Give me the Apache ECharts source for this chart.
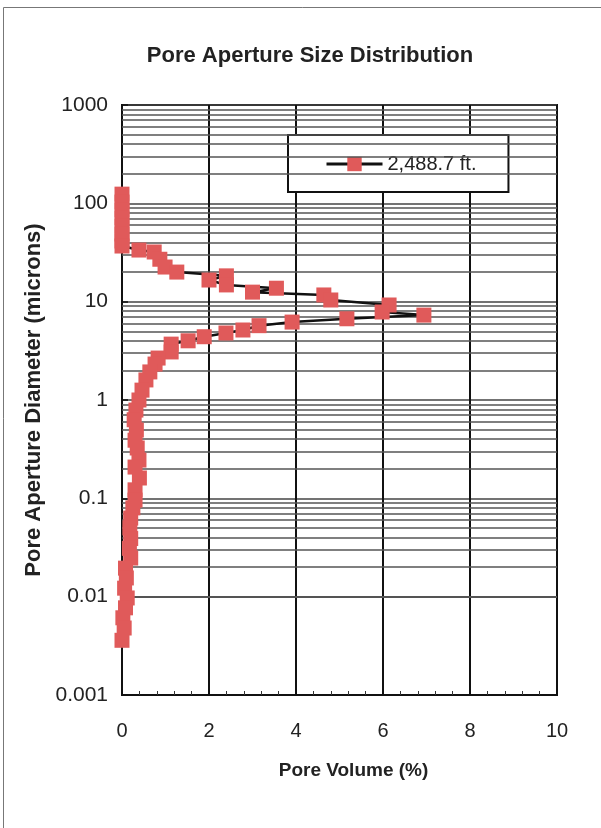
<!DOCTYPE html>
<html>
<head>
<meta charset="utf-8">
<script src="https://cdn.jsdelivr.net/npm/echarts@6/dist/echarts.min.js"></script>
<style>
html,body{margin:0;padding:0;background:#fff;}
#chart{width:601px;height:828px;}
</style>
</head>
<body>
<div id="chart"></div>
<script>
// Pore volume (%) per point, in order of decreasing pore aperture diameter
const poreVolume = [
  0, 0, 0, 0, 0, 0, 0, 0,
  0.39, 0.74, 0.87, 0.99, 1.26, 2.4, 2.0, 2.4, 3.55, 3.0, 4.64, 4.8, 6.14, 5.98, 6.94,
  5.17, 3.91, 3.15, 2.78, 2.39, 1.89, 1.52, 1.13, 1.13, 0.83, 0.76, 0.64, 0.55, 0.46, 0.39, 0.32, 0.28,
  0.33, 0.3, 0.35, 0.39, 0.3, 0.4, 0.3, 0.3, 0.25, 0.2, 0.18, 0.2, 0.17, 0.2, 0.08, 0.1, 0.06, 0.12, 0.08, 0.02, 0.05, 0.0
];
// Pore aperture diameter (microns)
const diameter = [
  124, 103, 85.6, 71, 58.8, 48.8, 41.4, 36.8,
  33.5, 32, 27, 22.5, 20, 18.3, 16.6, 14.8, 13.7, 12.5, 11.7, 10.4, 9.25, 7.85, 7.3,
  6.7, 6.2, 5.7, 5.15, 4.8, 4.4, 4.0, 3.7, 3.08, 2.67, 2.32, 1.93, 1.6, 1.26, 1.0, 0.79, 0.63,
  0.495, 0.39, 0.325, 0.245, 0.208, 0.161, 0.122, 0.096, 0.080, 0.063, 0.050, 0.039, 0.031, 0.0247, 0.0195, 0.0155, 0.0122, 0.0097, 0.0077, 0.0061, 0.0048, 0.0036
];
const seriesName = '2,488.7 ft.';
const xTicks = [0, 2, 4, 6, 8, 10];
const yDecades = [0.001, 0.01, 0.1, 1, 10, 100, 1000];
const minorMultipliers = [2, 3, 4, 5, 6, 7, 8, 9];

const points = poreVolume.map((v, i) => [v, diameter[i]]);
const minorLines = [];
yDecades.slice(0, -1).forEach(d => {
  minorMultipliers.forEach(m => minorLines.push({ yAxis: Number((m * d).toPrecision(3)) }));
});

const chart = echarts.init(document.getElementById('chart'), null, { renderer: 'canvas' });
const font = 'Arial, "Liberation Sans", sans-serif';
chart.setOption({
  animation: false,
  backgroundColor: '#ffffff',
  graphic: [{
    type: 'rect', z: 0, silent: true,
    shape: { x: 3.5, y: 7.5, width: 800, height: 900 },
    style: { fill: 'none', stroke: '#777', lineWidth: 1 }
  }],
  title: {
    text: 'Pore Aperture Size Distribution',
    left: 305, top: 40, textAlign: 'center',
    textStyle: { fontFamily: font, fontWeight: 'bold', fontSize: 22, color: '#222' }
  },
  legend: {
    left: 288, top: 135,
    padding: [19, 32, 18, 37],
    borderColor: '#111', borderWidth: 2, backgroundColor: '#fff',
    itemWidth: 56, itemHeight: 18,
    lineStyle: { width: 3, color: '#111' },
    textStyle: { fontFamily: font, fontSize: 20, color: '#222' },
    data: [seriesName]
  },
  grid: {
    left: 122, right: 44, top: 105, bottom: 133,
    show: true, borderColor: '#111', borderWidth: 2, backgroundColor: '#fff'
  },
  xAxis: {
    type: 'value', min: xTicks[0], max: xTicks[xTicks.length - 1], interval: 2,
    name: 'Pore Volume (%)', nameLocation: 'middle', nameGap: 66,
    nameTextStyle: { fontFamily: font, fontWeight: 'bold', fontSize: 19, color: '#222', padding: [0, 0, 0, 28] },
    axisLine: { show: true, lineStyle: { color: '#111', width: 2 } },
    axisTick: { show: true, inside: true, length: 6, lineStyle: { color: '#111', width: 1.5 } },
    minorTick: { show: true, splitNumber: 5, length: 4, lineStyle: { color: '#333', width: 1 } },
    axisLabel: { fontFamily: font, fontSize: 20, color: '#222', margin: 26 },
    splitLine: { show: true, lineStyle: { color: '#111', width: 2 } }
  },
  yAxis: {
    type: 'log', logBase: 10, min: yDecades[0], max: yDecades[yDecades.length - 1], interval: 1,
    name: 'Pore Aperture Diameter (microns)', nameLocation: 'middle', nameGap: 76,
    nameTextStyle: { fontFamily: font, fontWeight: 'bold', fontSize: 22, color: '#222' },
    axisLine: { show: true, lineStyle: { color: '#111', width: 2 } },
    axisTick: { show: true, inside: true, length: 6, lineStyle: { color: '#111', width: 1.5 } },
    axisLabel: {
      fontFamily: font, fontSize: 21, color: '#222', margin: 14,
      formatter: v => String(Number(v.toPrecision(3)))
    },
    splitLine: { show: true, lineStyle: { color: '#444', width: 1.5 } }
  },
  series: [
    {
      type: 'line', name: '_grid', silent: true, z: 1,
      data: [[0, 1]], symbol: 'none', lineStyle: { opacity: 0 },
      markLine: {
        silent: true, symbol: 'none', animation: false,
        label: { show: false },
        lineStyle: { color: '#555', width: 1.5, type: 'solid' },
        emphasis: { disabled: true },
        data: minorLines
      }
    },
    {
      type: 'line', name: seriesName, z: 5,
      data: points,
      symbol: 'rect', symbolSize: 15, showAllSymbol: true,
      lineStyle: { color: '#111', width: 2.5 },
      itemStyle: { color: '#e05a5a', borderWidth: 0 },
      emphasis: { disabled: true }
    }
  ]
});
</script>
</body>
</html>
